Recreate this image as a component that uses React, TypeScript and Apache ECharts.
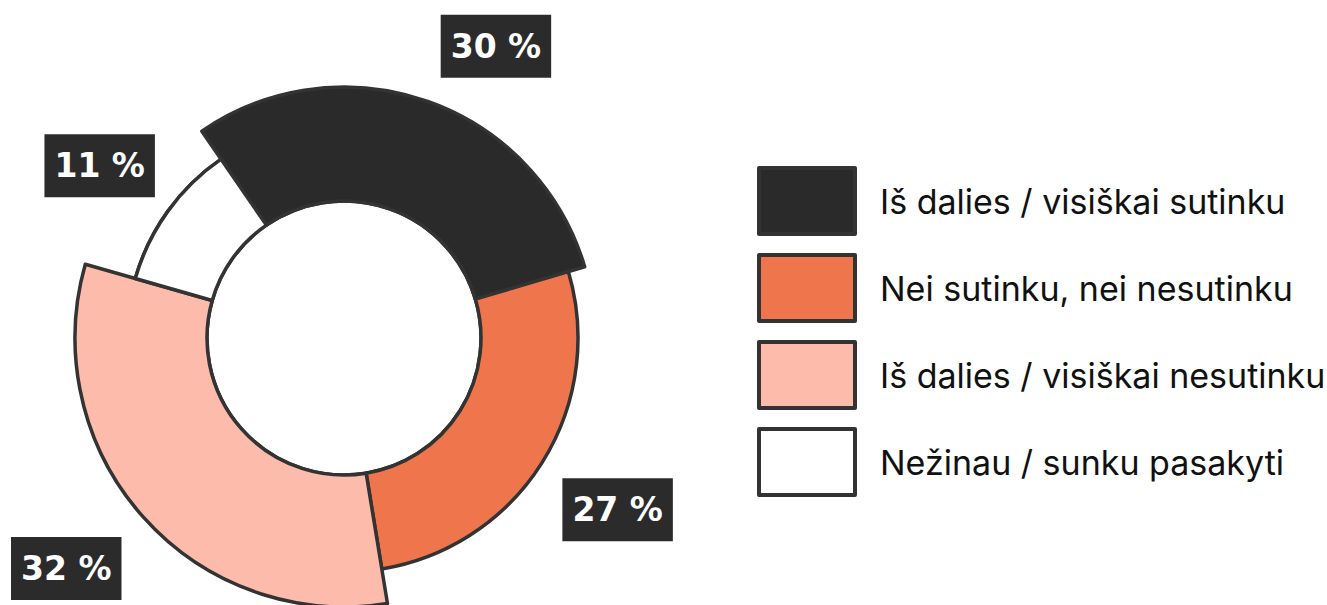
import React, { useEffect, useRef } from 'react';
import * as echarts from 'echarts';

// ---- data ----
const categories = [
  'Iš dalies / visiškai sutinku',
  'Nei sutinku, nei nesutinku',
  'Iš dalies / visiškai nesutinku',
  'Nežinau / sunku pasakyti',
];
const values = [30, 27, 32, 11];

// ---- styles / layout ----
const COLORS = ['#2a2a2a', '#ef764c', '#fdbbab', '#ffffff'];
const BORDER = '#333333';
const OUTER_R = [251, 234, 269, 217];
const INNER_R = 137;
const CENTER: [number, number] = [344, 338];
const START_ANGLE = 124.5;
// label placement: [angle offset from slice middle (deg), distance from centre (px)]
const LABEL_POLAR: [number, number][] = [
  [8, 329],
  [0, 323],
  [2, 361],
  [-0.5, 299],
];

export default function App() {
  const ref = useRef<HTMLDivElement>(null);
  useEffect(() => {
    const chart = echarts.init(ref.current!, null, { renderer: 'svg' });
    const total = values.reduce((a, b) => a + b, 0);
    const labelPos = (k: number) => {
      let before = 0;
      for (let j = 0; j < k; j++) before += values[j];
      const a =
        ((90 - START_ANGLE + ((before + values[k] / 2) / total) * 360 + LABEL_POLAR[k][0]) *
          Math.PI) /
        180;
      const r = LABEL_POLAR[k][1];
      return { x: CENTER[0] + r * Math.sin(a), y: CENTER[1] - r * Math.cos(a) };
    };
    const pieCommon: any = {
      type: 'pie',
      center: CENTER,
      startAngle: START_ANGLE,
      clockwise: true,
      silent: true,
      avoidLabelOverlap: false,
      labelLine: { show: false },
      emphasis: { disabled: true },
    };
    const labelStyle = {
      show: true,
      position: 'outside',
      formatter: '{c} %',
      color: '#ffffff',
      backgroundColor: '#2b2b2b',
      fontFamily: 'DejaVu Sans',
      fontWeight: 'bold',
      fontSize: 33,
      lineHeight: 38,
      padding: [13, 10, 12, 10],
    };
    const base = {
      ...pieCommon,
      name: 'base',
      radius: [INNER_R, Math.min(...OUTER_R)],
      label: { show: false },
      data: categories.map((name, i) => ({
        name,
        value: values[i],
        itemStyle: { color: COLORS[i], borderColor: BORDER, borderWidth: 3.5 },
      })),
    };
    const overlays = categories.map((_, k) => ({
      ...pieCommon,
      name: 'slice' + k,
      radius: [INNER_R, OUTER_R[k]],
      label: labelStyle,
      labelLayout: (p: any) => {
        if (p.dataIndex !== k) return {};
        const pos = labelPos(k);
        return { x: pos.x, y: pos.y, align: 'center', verticalAlign: 'middle' };
      },
      data: categories.map((name, i) =>
        i === k
          ? {
              name,
              value: values[i],
              itemStyle: { color: COLORS[i], borderColor: BORDER, borderWidth: 3.5 },
              label: { show: true },
            }
          : {
              name,
              value: values[i],
              itemStyle: { color: 'rgba(0,0,0,0)', borderWidth: 0 },
              label: { show: false },
            }
      ),
    }));
    chart.setOption({
      animation: false,
      backgroundColor: '#ffffff',
      legend: {
        orient: 'vertical',
        left: 757,
        top: 166,
        padding: 0,
        itemWidth: 96,
        itemHeight: 66,
        itemGap: 17,
        icon: 'rect',
        selectedMode: false,
        data: categories.map((name, i) => ({
          name,
          itemStyle: { color: COLORS[i], borderColor: BORDER, borderWidth: 4 },
        })),
        textStyle: {
          fontFamily: 'Inter',
          fontSize: 34,
          color: '#111111',
          padding: [0, 0, 0, 20],
        },
      },
      series: [base, ...overlays],
    });
    return () => chart.dispose();
  }, []);
  return (
    <div
      ref={ref}
      style={{ position: 'fixed', left: 0, top: 0, width: 1327, height: 605, background: '#fff' }}
    />
  );
}
